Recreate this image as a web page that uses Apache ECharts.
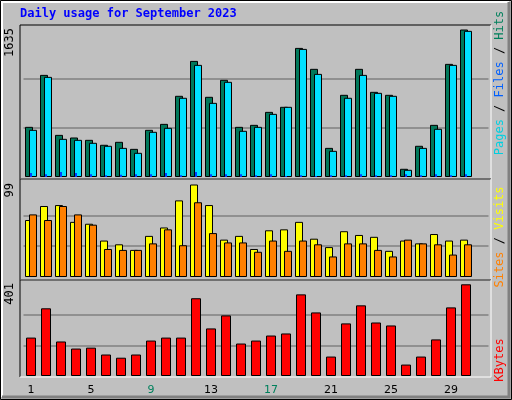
<!DOCTYPE html>
<html><head><meta charset="utf-8">
<script src="https://cdn.jsdelivr.net/npm/echarts@6/dist/echarts.min.js"></script>
<style>html,body{margin:0;padding:0;background:#c0c0c0}#c{width:512px;height:400px}</style>
</head><body><div id="c"></div>
<script>
const title = "Daily usage for September 2023";
const days = ["1","2","3","4","5","6","7","8","9","10","11","12","13","14","15","16","17","18","19","20","21","22","23","24","25","26","27","28","29","30","31"];
const weekendDays = ["2","3","9","10","16","17","23","24","30","31"];
const hits  = [556,1132,467,438,412,357,390,312,523,589,900,1287,889,1077,556,578,722,778,1431,1199,323,911,1199,944,911,91,346,578,1254,1635,null];
const files = [523,1110,423,412,379,346,323,268,501,545,878,1243,822,1055,512,556,700,778,1420,1143,290,878,1132,933,900,80,323,534,1243,1620,null];
const pages = [45,30,55,45,30,20,25,30,30,45,20,55,30,30,30,20,30,10,20,10,20,20,30,20,20,30,20,30,20,30,null];
const visits = [61,76,77,59,57,39,35,29,44,53,82,99,77,40,44,30,50,51,59,41,32,49,45,43,28,39,36,46,39,40,null];
const sites  = [67,61,76,67,56,30,29,29,36,51,34,80,47,37,37,27,39,28,39,35,22,36,36,29,22,40,36,35,24,35,null];
const kbytes = [168,296,151,120,124,94,80,94,155,168,168,340,208,265,142,155,177,186,357,278,85,230,309,234,221,50,85,160,300,401,null];
const maxLabels = ["1635","99","401"];
const maxVals = [1635,99,401];

const chart = echarts.init(document.getElementById('c'), null, {renderer:'canvas'});
// grid geometry: [top, height, pixelHeightOfMax]
const G = [[25,152,147.5],[180,97,92.5],[280,96,91.7]];
const L = 23.5, W = 465;
const grids = G.map(g=>({left:L, top:g[0], width:W, height:g[1]}));
const xAxes = [], yAxes = [];
G.forEach((g,i)=>{
  xAxes.push({type:'category', gridIndex:i, data:days, axisLine:{show:false}, axisTick:{show:false},
    axisLabel:{show:i===2, margin:9, fontFamily:'DejaVu Sans', fontSize:11,
      formatter:v=> weekendDays.includes(v)?'{w|'+v+'}':'{n|'+v+'}',
      rich:{w:{color:'#00805c',fontFamily:'DejaVu Sans',fontSize:11},n:{color:'#000',fontFamily:'DejaVu Sans',fontSize:11}}}});
  yAxes.push({type:'value', gridIndex:i, min:0, max:maxVals[i]*g[1]/g[2], show:false, splitLine:{show:false}});
});
// extra hidden x axis for pages
xAxes.push({type:'category', gridIndex:0, data:days, show:false});
yAxes.push({type:'value', gridIndex:0, min:0, max:maxVals[0]*G[0][1]/G[0][2], show:false, splitLine:{show:false}});
const gl = v=>({silent:true, symbol:'none', z:1, label:{show:false}, lineStyle:{color:'#808080',type:'solid',width:1.5},
  data:[{yAxis:v/3},{yAxis:2*v/3}]});
const bs = c=>({color:c, borderColor:'#000', borderWidth:1});
const series = [
  {type:'bar', xAxisIndex:0, yAxisIndex:0, data:hits, barWidth:8, barGap:'-50%', itemStyle:bs('#00785a'), z:2, markLine:gl(maxVals[0]), animation:false},
  {type:'bar', xAxisIndex:0, yAxisIndex:0, data:files, barWidth:8, barGap:'-50%', itemStyle:bs('#00e0ff'), z:3, animation:false},
  {type:'bar', xAxisIndex:3, yAxisIndex:3, data:pages, barWidth:2, itemStyle:{color:'#0040ff'}, z:4, animation:false},
  {type:'bar', xAxisIndex:1, yAxisIndex:1, data:visits, barWidth:8, barGap:'-50%', itemStyle:bs('#ffff00'), z:2, markLine:gl(maxVals[1]), animation:false},
  {type:'bar', xAxisIndex:1, yAxisIndex:1, data:sites, barWidth:8, barGap:'-50%', itemStyle:bs('#ff8000'), z:3, animation:false},
  {type:'bar', xAxisIndex:2, yAxisIndex:2, data:kbytes, barWidth:10, itemStyle:bs('#ff0000'), z:2, markLine:gl(maxVals[2]), animation:false}
];
const frames = [[20,25,471,154],[20,179,471,101],[20,280,471,97]];
const graphic = [
  {type:'rect', shape:{x:0.5,y:0.5,width:511,height:399}, style:{fill:'none',stroke:'#000',lineWidth:1}, z:0},
  {type:'polyline', shape:{points:[[2,397],[2,2],[509,2]]}, style:{stroke:'#fff',fill:'none',lineWidth:2}, z:0},
  {type:'polyline', shape:{points:[[509,2],[509,397],[2,397]]}, style:{stroke:'#808080',fill:'none',lineWidth:3}, z:0},
  {type:'text', left:20, top:8, style:{text:title, fill:'#0000ff', font:'bold 12px "DejaVu Sans Mono"'}},
];
frames.forEach(f=>graphic.push({type:'polyline', shape:{points:[[f[0],f[1]+f[3]],[f[0],f[1]],[f[0]+f[2],f[1]]]}, style:{stroke:'#000',fill:'none',lineWidth:1}, z:10},
  {type:'polyline', shape:{points:[[f[0]+f[2],f[1]],[f[0]+f[2],f[1]+f[3]],[f[0],f[1]+f[3]]]}, style:{stroke:'#fff',fill:'none',lineWidth:1}, z:10}));
const topY = [28,183,283];
maxLabels.forEach((t,i)=>graphic.push({type:'text', x:10, y:topY[i], rotation:Math.PI/2,
  style:{text:t, fill:'#000', font:'12px "DejaVu Sans Mono"', align:'right', verticalAlign:'middle'}}));
const rt = (x,y,text,rich)=>({type:'text', x:x, y:y, rotation:Math.PI/2,
  style:{text:text, align:'center', verticalAlign:'middle', font:'12px "DejaVu Sans Mono"', rich:rich}});
const rf = c=>({fill:c, font:'12px "DejaVu Sans Mono"'});
graphic.push(rt(500,83,'{p|Pages} {s|/} {f|Files} {s|/} {h|Hits}',{p:rf('#00d0e0'),f:rf('#0060ff'),h:rf('#00805c'),s:rf('#000')}));
graphic.push(rt(500,237,'{a|Sites} {s|/} {b|Visits}',{a:rf('#ff8000'),b:rf('#ffff00'),s:rf('#000')}));
graphic.push(rt(500,360,'{k|KBytes}',{k:rf('#ff0000')}));
chart.setOption({backgroundColor:'#c0c0c0', animation:false, grid:grids, xAxis:xAxes, yAxis:yAxes, series:series, graphic:graphic});
</script></body></html>
